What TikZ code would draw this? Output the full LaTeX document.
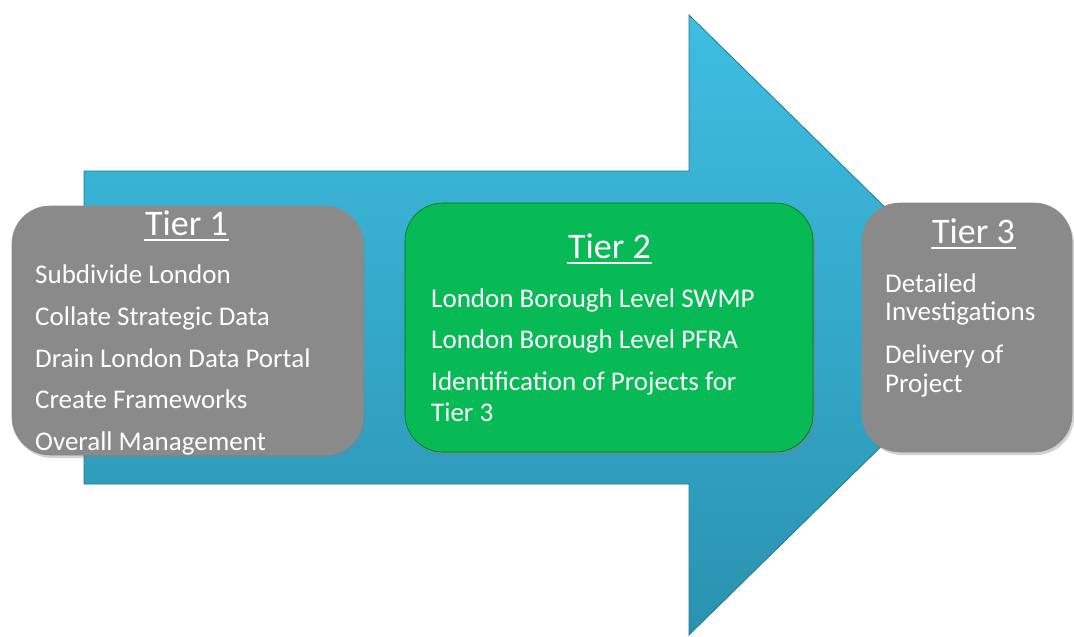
\documentclass[tikz,border=0pt]{standalone}
\usepackage{fontspec}
\setmainfont{Carlito}
\usetikzlibrary{shadows}
\definecolor{arrowtop}{RGB}{62,190,226}
\definecolor{arrowbot}{RGB}{42,146,176}
\definecolor{arrowedge}{RGB}{36,120,145}
\definecolor{boxgray}{RGB}{138,138,138}
\definecolor{boxgreen}{RGB}{8,186,86}
\begin{document}
\begin{tikzpicture}[x=1pt,y=-1pt,
  tierbox/.style={rounded corners=38pt, minimum width=#1, minimum height=249pt,
    inner sep=0pt, line width=0.6pt,
    drop shadow={shadow xshift=2pt, shadow yshift=-3pt, opacity=0.35}},
  titletext/.style={inner sep=0pt, text=white, font=\fontsize{36}{40}\selectfont},
  itemtext/.style={inner sep=0pt, text=white, font=\fontsize{27}{31}\selectfont},
  uline/.style={white, line width=1.6pt}]
\useasboundingbox (0,0) rectangle (1074,637);
\fill[white] (0,0) rectangle (1074,637);
% big arrow
\path[top color=arrowtop, bottom color=arrowbot, draw=arrowedge, line width=0.8pt]
  (84,171) -- (689,171) -- (689,15) -- (1005,325) -- (689,635) -- (689,484) -- (84,484) -- cycle;
% boxes
\node[tierbox=351pt, fill=boxgray, draw=black!45] (box1) at (187.5,330.5) {};
\node[tierbox=408pt, fill=boxgreen, draw=green!45!black] (box2) at (609,327.5) {};
\node[tierbox=210pt, fill=boxgray, draw=black!45] (box3) at (967,327.5) {};
% Tier 1
\node[titletext, anchor=base] (title1) at (186.5,235) {Tier 1};
\draw[uline] ([xshift=-1pt,yshift=-5pt]title1.base west) -- ([xshift=1pt,yshift=-5pt]title1.base east);
\node[itemtext, anchor=base west] (i11) at (35,283) {Subdivide London};
\node[itemtext, anchor=base west] (i12) at (35,325) {Collate Strategic Data};
\node[itemtext, anchor=base west] (i13) at (35,367) {Drain London Data Portal};
\node[itemtext, anchor=base west] (i14) at (35,408) {Create Frameworks};
\node[itemtext, anchor=base west] (i15) at (35,450) {Overall Management};
% Tier 2
\node[titletext, anchor=base] (title2) at (609.5,258) {Tier 2};
\draw[uline] ([xshift=-1pt,yshift=-5pt]title2.base west) -- ([xshift=1pt,yshift=-5pt]title2.base east);
\node[itemtext, anchor=base west] (i21) at (431,307) {London Borough Level SWMP};
\node[itemtext, anchor=base west] (i22) at (431,348) {London Borough Level PFRA};
\node[itemtext, anchor=base west] (i23) at (431,390) {Identification of Projects for};
\node[itemtext, anchor=base west] (i24) at (431,421) {Tier 3};
% Tier 3
\node[titletext, anchor=base] (title3) at (973.5,243) {Tier 3};
\draw[uline] ([xshift=-1pt,yshift=-5pt]title3.base west) -- ([xshift=1pt,yshift=-5pt]title3.base east);
\node[itemtext, anchor=base west] (i31) at (885,292) {Detailed};
\node[itemtext, anchor=base west] (i32) at (885,320) {Investigations};
\node[itemtext, anchor=base west] (i33) at (885,363) {Delivery of};
\node[itemtext, anchor=base west] (i34) at (885,392) {Project};
\end{tikzpicture}
\end{document}
